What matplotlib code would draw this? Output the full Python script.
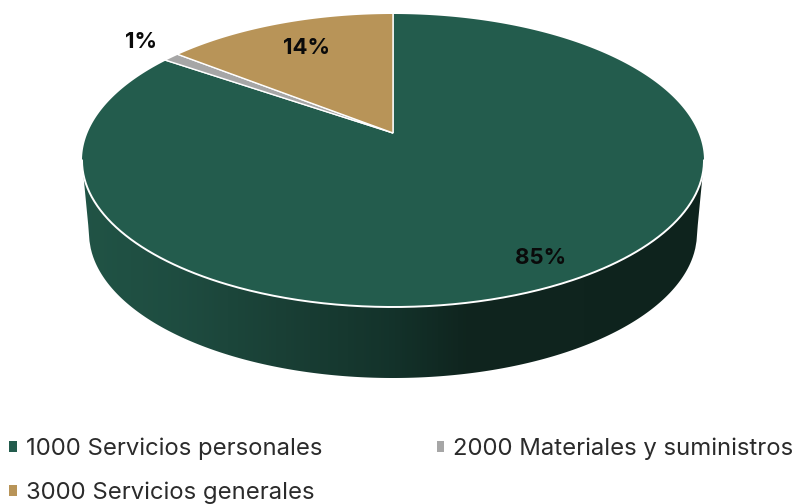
#!/usr/bin/env python3
"""3D style pie chart, gasto por capitulo"""

import numpy as np
import matplotlib
matplotlib.use('Agg')
import matplotlib.pyplot as plt
from matplotlib.colors import LinearSegmentedColormap
from matplotlib.patches import PathPatch, Polygon
from matplotlib.path import Path

# Data
categories = ['1000 Servicios personales', '2000 Materiales y suministros', '3000 Servicios generales']
values = [84.5, 1.0, 14.5]
pct_labels = ['85%', '1%', '14%']
colors = ['#235c4d', '#a6a6a6', '#b89458']

plt.rcParams['font.family'] = ['Inter', 'DejaVu Sans']

W, H = 806, 504
fig = plt.figure(figsize=(W / 100, H / 100), dpi=100)
ax = fig.add_axes([0, 0, 1, 1])

# the top face is an ellipse, apex sits above its middle because of the perspective
cx, cy = 393, 160.5
rx, ry = 311, 146.5
apex_y = (cy - 133) / ry

wedges, _ = ax.pie(values, colors=colors, startangle=90, counterclock=False,
                   radius=4, center=(0, apex_y), frame=True,
                   wedgeprops={'edgecolor': 'white', 'linewidth': 1.0})
ax.set_aspect('auto')
ax.set_axis_off()

# same pixel layout as the picture: unit radius = rx / ry pixels
x_min, x_max = -cx / rx, (W - cx) / rx
y_min, y_max = (cy - H) / ry, cy / ry
ax.set_xlim(x_min, x_max)
ax.set_ylim(y_min, y_max)

# white sheet with an elliptical hole, trims the oversize pie down to the top face
t_full = np.linspace(0, 2 * np.pi, 400)
hole = np.column_stack([np.cos(t_full), np.sin(t_full)])
frame_pts = np.array([[-5, -5], [-5, 5], [5, 5], [5, -5], [-5, -5]], dtype=float)
sheet_verts = np.vstack([frame_pts, hole])
sheet_codes = [Path.MOVETO] + [Path.LINETO] * 4 + [Path.MOVETO] + [Path.LINETO] * (len(hole) - 1)
ax.add_patch(PathPatch(Path(sheet_verts, sheet_codes), facecolor='white', edgecolor='none', zorder=2))

# side wall with horizontal gradient, between the front of the top face and the floor ellipse
bottom_rx = 304 / rx
bottom_cy = (cy - 233) / ry
bottom_ry = 145 / ry
wall_x = np.linspace(-1, 1, 500)
wall_top = -np.sqrt(1 - wall_x ** 2)
inside = np.abs(wall_x) <= bottom_rx
wall_low = np.empty_like(wall_x)
wall_low[inside] = bottom_cy - bottom_ry * np.sqrt(1 - (wall_x[inside] / bottom_rx) ** 2)
wall_low[~inside] = bottom_cy * (1 - np.abs(wall_x[~inside])) / (1 - bottom_rx)
wall_cmap = LinearSegmentedColormap.from_list('wall', [
    (0.00, '#205345'), (0.15, '#1e4c40'), (0.32, '#193f35'), (0.50, '#13322a'),
    (0.62, '#0f241e'), (1.00, '#0e231d')])
mesh_x = np.vstack([wall_x, wall_x])
mesh_y = np.vstack([wall_low - 0.03, wall_top])
shade = np.linspace(0, 1, len(wall_x) - 1).reshape(1, -1)
ax.pcolormesh(mesh_x, mesh_y, shade, cmap=wall_cmap, shading='flat',
              antialiased=False, linewidth=0, zorder=3)

# white again under the floor curve, the mesh edge comes out stepped otherwise
floor_pts = np.column_stack([wall_x, wall_low])
under = np.vstack([[[-5, 0], [-1, 0]], floor_pts, [[1, 0], [5, 0], [5, -5], [-5, -5]]])
ax.add_patch(Polygon(under, closed=True, facecolor='white', edgecolor='none', zorder=3.5))

# outline on the front of the top face
t = np.linspace(np.pi, 2 * np.pi, 300)
ax.plot(np.cos(t), np.sin(t), color='white', lw=1.4, zorder=4)
ax.set_xlim(x_min, x_max)
ax.set_ylim(y_min, y_max)

# percent labels, placed on the picture
label_pos = [(541, 258.5), (141, 42), (306, 47.5)]
for txt, (px, py) in zip(pct_labels, label_pos):
    ax.text((px - cx) / rx, (cy - py) / ry, txt, ha='center', va='center',
            fontsize=16, fontweight='bold', color='#0a0a0a', zorder=5)

# column-first order so 2000 lands in the second column
order = [0, 2, 1]
leg = ax.legend([wedges[i] for i in order], [categories[i] for i in order],
                ncol=2, frameon=False, fontsize=17.2, labelcolor='#2b2b2b',
                handlelength=0.3, handleheight=0.3, handletextpad=0.38,
                columnspacing=4.8, labelspacing=0.9,
                loc='lower left', bbox_to_anchor=(-0.012, -0.038), borderaxespad=0.4)
leg.set_zorder(6)
for h in leg.legend_handles:
    h.set_edgecolor('none')

fig.savefig('out.png', dpi=100)
